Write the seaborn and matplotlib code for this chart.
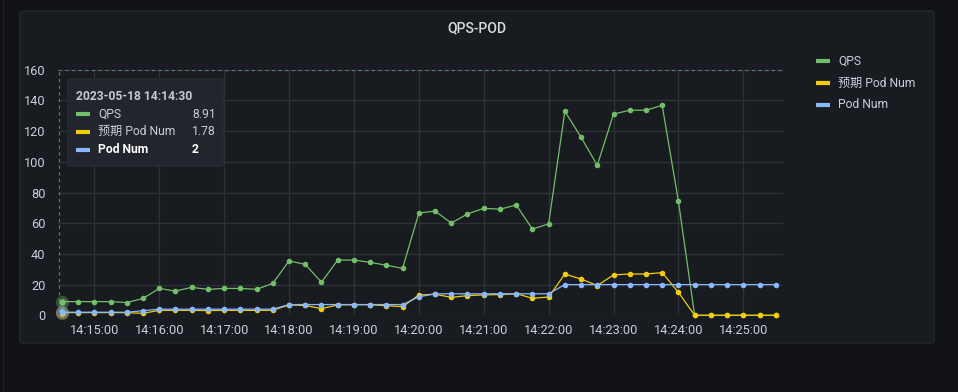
import pandas as pd
import numpy as np
import seaborn as sns
import matplotlib.pyplot as plt
import matplotlib.dates as mdates
from matplotlib.patches import FancyBboxPatch
from matplotlib.lines import Line2D

# data, 15s steps from 14:14:30 to 14:25:30
times = pd.date_range("2023-05-18 14:14:30", "2023-05-18 14:25:30", freq="15s")
qps = [8.91, 8.9, 8.9, 8.9, 8.3, 11.0, 17.5, 15.8, 18.2, 16.9, 17.5, 17.5, 16.9, 20.8,
       35.4, 33.2, 21.5, 36.0, 36.0, 34.5, 32.6, 30.6, 66.6, 67.9, 60.1, 66.0, 69.7,
       69.1, 71.9, 56.2, 59.5, 132.9, 116.0, 97.7, 131.1, 133.6, 133.6, 136.8, 74.3,
       0, 0, 0, 0, 0, 0]
expected_pods = [1.78, 1.78, 1.78, 1.78, 1.7, 1.3, 3.2, 3.2, 3.2, 3.1, 3.2, 3.2, 3.2, 3.3,
                 6.8, 6.4, 4.3, 6.8, 6.9, 6.9, 6.3, 5.6, 13.2, 13.7, 11.7, 12.8, 13.3,
                 13.5, 14.1, 11.1, 11.9, 26.9, 23.6, 19.4, 26.3, 26.9, 26.9, 27.8, 15.0,
                 0, 0, 0, 0, 0, 0]
pods = [2, 2, 2, 2, 2, 3, 4, 4, 4, 4, 4, 4, 4, 4,
        7, 7, 7, 7, 7, 7, 7, 7, 12, 14, 14, 14, 14,
        14, 14, 14, 14, 20, 20, 20, 20, 20, 20, 20, 20,
        20, 20, 20, 20, 20, 20]
series_names = ["QPS", "预期 Pod Num", "Pod Num"]
colors = ["#73bf69", "#f2cc0c", "#8ab8ff"]
y_ticks = [0, 20, 40, 60, 80, 100, 120, 140, 160]

W, H = 958, 392
BG = "#111217"
PANEL = "#181b1f"
GRID = "#2e3136"
TEXT = "#ccccdc"
FS = 8.7

sns.set_theme(style="dark")
plt.rcParams["font.family"] = ["Roboto", "Noto Sans CJK SC", "DejaVu Sans"]


def fp(x, y):
    # pixel position -> figure fraction
    return x / W, 1 - y / H


df = pd.DataFrame({"time": times, series_names[0]: qps,
                   series_names[1]: expected_pods, series_names[2]: pods})
long = df.melt(id_vars="time", var_name="series", value_name="value")

fig = plt.figure(figsize=(W / 100, H / 100), dpi=100, facecolor=BG)
fig.patches.append(FancyBboxPatch(fp(20, 343), 914 / W, 332 / H,
                                  boxstyle="round,pad=0,rounding_size=0.004",
                                  transform=fig.transFigure, facecolor=PANEL,
                                  edgecolor="#24272c", linewidth=1, zorder=-5))
fig.add_artist(Line2D([3 / W, 3 / W], [0, 1], color="#1d1f24", linewidth=1, zorder=-5))

ax = fig.add_axes([58 / W, 1 - 315.3 / H, 725 / W, 245.6 / H])
ax.set_zorder(1)
ax.set_facecolor(PANEL)

sns.lineplot(data=long, x="time", y="value", hue="series", hue_order=series_names,
             palette=colors, marker="o", markersize=4.0, markeredgewidth=0,
             linewidth=0.9, legend=False, ax=ax, zorder=3)
for ln in ax.lines:
    ln.set_clip_on(False)

# hover highlight on the first sample
for vals, c in zip([qps, expected_pods, pods], colors):
    ax.scatter([times[0]], [vals[0]], s=90, color=c, alpha=0.35, linewidths=0,
               zorder=4, clip_on=False)
    ax.scatter([times[0]], [vals[0]], s=22, color=c, linewidths=0, zorder=5, clip_on=False)

ax.set_xlim(pd.Timestamp("2023-05-18 14:14:26.4"), pd.Timestamp("2023-05-18 14:25:36.7"))
ax.set_ylim(0, 160)
ax.set_yticks(y_ticks)
ax.xaxis.set_major_locator(mdates.MinuteLocator())
ax.xaxis.set_major_formatter(mdates.DateFormatter("%H:%M:%S"))
ax.grid(True, color=GRID, linewidth=1)
ax.tick_params(axis="both", length=0, colors=TEXT, labelsize=9.2)
ax.tick_params(axis="x", pad=6)
ax.tick_params(axis="y", pad=9)
ax.set_xlabel("")
ax.set_ylabel("")
for s in ax.spines.values():
    s.set_visible(False)

# crosshair
ax.axvline(times[0] - pd.Timedelta(seconds=2.4), color="#5f7d86", linewidth=0.8,
           linestyle=(0, (3, 3)), zorder=6)
ax.axhline(160, color="#5f7d86", linewidth=0.8, linestyle=(0, (3, 3)), zorder=6, clip_on=False)

fig.text(*fp(477, 28), "QPS-POD", ha="center", va="center", fontsize=10,
         fontweight="medium", color="#d8d9e0")

# tooltip
fig.patches.append(FancyBboxPatch(fp(68, 166), 155 / W, 87 / H,
                                  boxstyle="round,pad=0,rounding_size=0.003",
                                  transform=fig.transFigure, facecolor="#22252b",
                                  edgecolor="#2a2d33", linewidth=0.8, zorder=10))
fig.text(*fp(76, 96), times[0].strftime("%Y-%m-%d %H:%M:%S"), ha="left", va="center",
         fontsize=FS, fontweight="bold", color="#c7c8d1", zorder=11)
tip_vals = [f"{qps[0]:.2f}", f"{expected_pods[0]:.2f}", f"{pods[0]:g}"]
for i, (name, c, v) in enumerate(zip(series_names, colors, tip_vals)):
    y = 114 + i * 17.8
    bold = i == 2
    fig.add_artist(Line2D([76 / W, 90 / W], [1 - y / H] * 2, color=c, linewidth=3,
                          solid_capstyle="butt", zorder=11))
    fig.text(*fp(98, y), name, ha="left", va="center", fontsize=FS,
             fontweight="bold" if bold else "normal",
             color="#ffffff" if bold else TEXT, zorder=11)
    fig.text(*fp(192, y), v, ha="left", va="center", fontsize=FS,
             fontweight="bold" if bold else "normal",
             color="#ffffff" if bold else TEXT, zorder=11)

# legend
for i, (name, c) in enumerate(zip(series_names, colors)):
    y = 61 + i * 22
    fig.add_artist(Line2D([816 / W, 830 / W], [1 - y / H] * 2, color=c, linewidth=3,
                          solid_capstyle="butt"))
    fig.text(*fp(838, y), name, ha="left", va="center", fontsize=FS, color=TEXT)

fig.savefig("out.png", dpi=100, facecolor=BG)
